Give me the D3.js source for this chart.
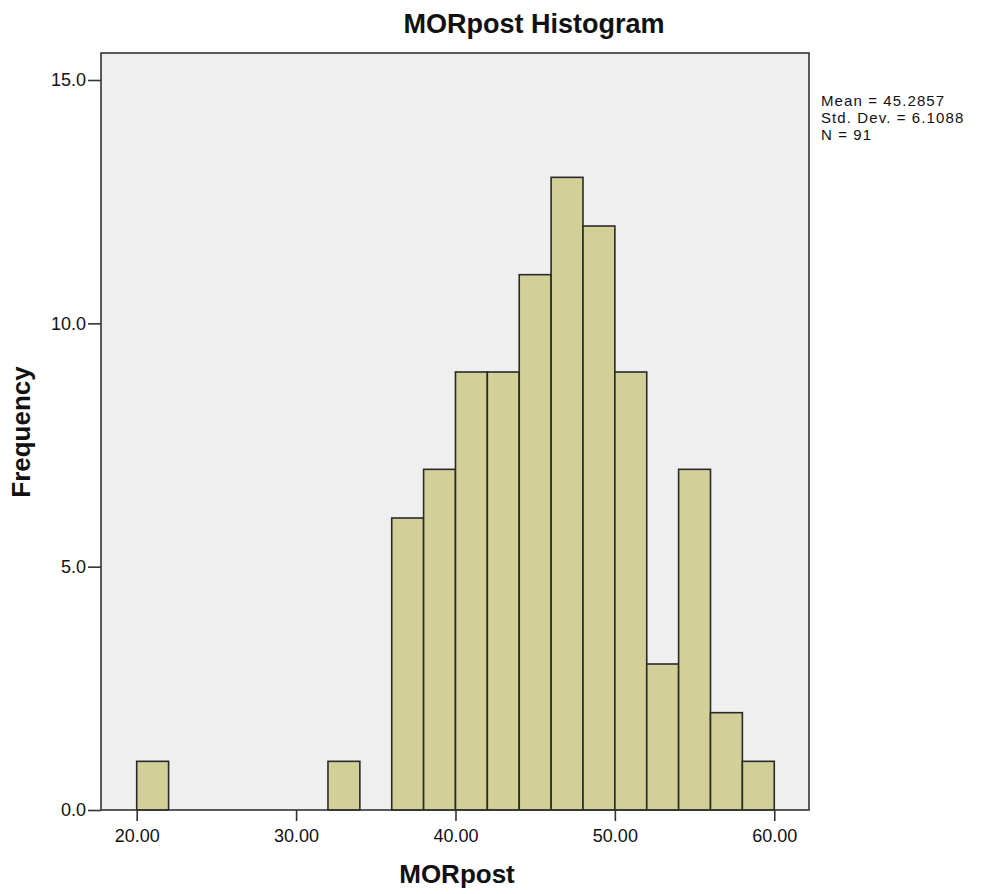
<!DOCTYPE html>
<html>
<head>
<meta charset="utf-8">
<script src="https://cdn.jsdelivr.net/npm/d3@7"></script>
<style>
  body { margin: 0; background: #fff; }
  svg { display: block; }
  text { font-family: "Liberation Sans", Arial, sans-serif; fill: #111; }
</style>
</head>
<body>
<svg id="chart" width="985" height="894"></svg>
<script>
// Data
const binStarts = [20, 32, 36, 38, 40, 42, 44, 46, 48, 50, 52, 54, 56, 58];
const binWidth = 2;
const frequencies = [1, 1, 6, 7, 9, 9, 11, 13, 12, 9, 3, 7, 2, 1];
const xTicks = [20, 30, 40, 50, 60];
const yTicks = [0, 5, 10, 15];
const statsLines = ["Mean = 45.2857", "Std. Dev. = 6.1088", "N = 91"];
const titleText = "MORpost Histogram";
const xLabelText = "MORpost";
const yLabelText = "Frequency";

(function () {
const svg = d3.select("#chart");
const pLeft = 101, pRight = 809, pTop = 53, pBottom = 810;

const x = d3.scaleLinear().domain([17.76, 62.18]).range([pLeft, pRight]);
const y = d3.scaleLinear().domain([0, 15.555]).range([pBottom, pTop]);

// plot background
svg.append("rect")
  .attr("x", pLeft).attr("y", pTop)
  .attr("width", pRight - pLeft).attr("height", pBottom - pTop)
  .attr("fill", "#EFEFEF");

// bars
svg.append("g").selectAll("rect")
  .data(binStarts.map((s, i) => ({ s, f: frequencies[i] })))
  .join("rect")
  .attr("x", d => x(d.s))
  .attr("y", d => y(d.f))
  .attr("width", d => x(d.s + binWidth) - x(d.s))
  .attr("height", d => y(0) - y(d.f))
  .attr("fill", "#D3CF98")
  .attr("stroke", "#2a2a2a")
  .attr("stroke-width", 1.6);

// frame
svg.append("rect")
  .attr("x", pLeft).attr("y", pTop)
  .attr("width", pRight - pLeft).attr("height", pBottom - pTop)
  .attr("fill", "none")
  .attr("stroke", "#333")
  .attr("stroke-width", 1.6);

// x axis
const xAxis = d3.axisBottom(x).tickValues(xTicks).tickFormat(d3.format(".2f"))
  .tickSizeInner(11).tickSizeOuter(0).tickPadding(8);
const gx = svg.append("g").attr("transform", `translate(0,${pBottom})`).call(xAxis);
gx.select(".domain").remove();
gx.selectAll(".tick line").attr("stroke", "#333").attr("stroke-width", 1.6);
gx.selectAll(".tick text").attr("font-size", 18).attr("fill", "#222")
  .attr("font-family", "Liberation Sans, Arial, sans-serif");

// y axis
const yAxis = d3.axisLeft(y).tickValues(yTicks).tickFormat(d3.format(".1f"))
  .tickSizeInner(13).tickSizeOuter(0).tickPadding(2);
const gy = svg.append("g").attr("transform", `translate(${pLeft},0)`).call(yAxis);
gy.select(".domain").remove();
gy.selectAll(".tick line").attr("stroke", "#333").attr("stroke-width", 1.6);
gy.selectAll(".tick text").attr("font-size", 18).attr("fill", "#222")
  .attr("font-family", "Liberation Sans, Arial, sans-serif");

// title
svg.append("text")
  .attr("x", 534).attr("y", 33)
  .attr("text-anchor", "middle")
  .attr("font-size", 27).attr("font-weight", "bold")
  .text(titleText);

// x label
svg.append("text")
  .attr("x", 457).attr("y", 883)
  .attr("text-anchor", "middle")
  .attr("font-size", 26).attr("font-weight", "bold")
  .text(xLabelText);

// y label
svg.append("text")
  .attr("transform", "translate(30,432) rotate(-90)")
  .attr("text-anchor", "middle")
  .attr("font-size", 26).attr("font-weight", "bold")
  .text(yLabelText);

// stats
svg.append("g").selectAll("text")
  .data(statsLines)
  .join("text")
  .attr("x", 821)
  .attr("y", (d, i) => 106 + i * 17)
  .attr("font-size", 15)
  .attr("letter-spacing", 1.1)
  .attr("fill", "#222")
  .text(d => d);
})();
</script>
</body>
</html>
